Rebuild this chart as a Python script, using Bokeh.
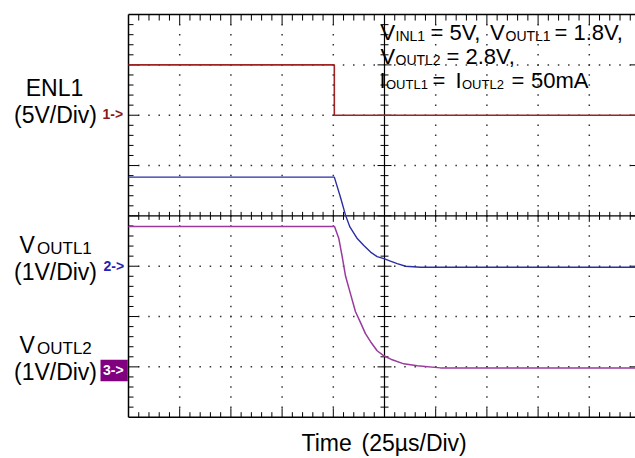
import numpy as np
from bokeh.plotting import figure
from bokeh.models import Range1d
from bokeh.core.properties import value
from bokeh.embed import file_html
from bokeh.resources import INLINE

# ---------------- data (read from the scope shot) ----------------
# time in microseconds (25 us / div), voltages in volts
t_enl1 = [0.0, 100.5, 100.5, 250.0]
v_enl1 = [5.0, 5.0, 0.0, 0.0]

t_voutl1 = [0.0, 100.5, 103.5, 106.0, 108.1, 111.7, 114.9, 118.2, 121.4,
            124.7, 127.9, 131.2, 135.3, 142.6, 250.0]
v_voutl1 = [1.77, 1.77, 1.37, 1.01, 0.78, 0.55, 0.41, 0.28, 0.19,
            0.15, 0.10, 0.05, 0.0, -0.02, -0.02]

t_voutl2 = [0.0, 100.6, 102.7, 104.3, 106.0, 108.4, 110.8, 113.3, 115.7,
            118.2, 121.4, 124.7, 128.8, 134.4, 141.0, 152.3, 250.0]
v_voutl2 = [2.79, 2.79, 2.55, 2.20, 1.80, 1.45, 1.10, 0.88, 0.66,
            0.50, 0.32, 0.22, 0.14, 0.06, 0.02, -0.02, -0.02]

# channel settings: ground position (divisions from bottom) and V/div
ch_offset = [6.0, 3.0, 1.0]
ch_scale = [5.0, 1.0, 1.0]

time_per_div = 25.0
n_xdiv = 10
n_ydiv = 8

# ---------------- layout helpers (page pixels -> data) ----------------
X0, DX = 128.0, 51.2      # page px of t=0, px per division
Y0, DY = 416.7, 50.33     # page px of bottom grid line, px per division
W, H = 635, 458


def sx(X):
    return (X - X0) / DX * time_per_div


def sy(Y):
    return (Y0 - Y) / DY


PXX = time_per_div / DX
PXY = 1.0 / DY

FONT = value("Liberation Sans")

p = figure(width=W, height=H, x_range=Range1d(sx(0), sx(W)),
           y_range=Range1d(sy(H), sy(0)), output_backend="svg",
           toolbar_location=None, min_border=0,
           x_axis_location=None, y_axis_location=None)
p.outline_line_color = None
p.background_fill_color = "white"
p.border_fill_color = "white"
p.xgrid.visible = False
p.ygrid.visible = False

T_END = n_xdiv * time_per_div

# ---------------- dotted graticule ----------------
dx_list, dy_list = [], []
for k in range(1, n_xdiv):
    if k == n_xdiv // 2:
        continue
    for j in range(1, n_ydiv * 5):
        dx_list.append(k * time_per_div)
        dy_list.append(j * 0.2)
for k in range(1, n_ydiv):
    if k == n_ydiv // 2:
        continue
    for j in range(1, n_xdiv * 5):
        dx_list.append(j * time_per_div / 5)
        dy_list.append(k)
p.scatter(dx_list, dy_list, marker="square", size=1.5, color="#333333",
          line_color=None)

# ---------------- frame, center lines and ticks ----------------
sx0, sy0, sx1, sy1 = [], [], [], []


def seg(a, b, c, d):
    sx0.append(a); sy0.append(b); sx1.append(c); sy1.append(d)


xm = [j * time_per_div / 5 for j in range(1, n_xdiv * 5)]
ym = [j * 0.2 for j in range(1, n_ydiv * 5)]
for j, x in enumerate(xm, start=1):
    major = (j % 5 == 0)
    seg(x, n_ydiv, x, n_ydiv - (10 if major else 6) * PXY)
    seg(x, 0, x, (9 if major else 5) * PXY)
    h = (6 if major else 4) * PXY
    seg(x, n_ydiv / 2 - h, x, n_ydiv / 2 + h)
for j, y in enumerate(ym, start=1):
    major = (j % 5 == 0)
    seg(0, y, (10 if major else 5) * PXX, y)
    seg(T_END, y, T_END - (10 if major else 5) * PXX, y)
    w = (7 if major else 4) * PXX
    xc = T_END / 2
    seg(xc - w, y, xc + w, y)

p.segment(sx0, sy0, sx1, sy1, line_color="black", line_width=1)
p.segment([0, T_END / 2], [n_ydiv / 2, 0], [T_END, T_END / 2],
          [n_ydiv / 2, n_ydiv], line_color="black", line_width=1.2)
p.segment([0, 0, 0], [0, n_ydiv, 0], [0, T_END, T_END], [n_ydiv, n_ydiv, 0],
          line_color="black", line_width=1.5)

# ---------------- traces ----------------
def to_div(v, ch):
    return [ch_offset[ch] + vv / ch_scale[ch] for vv in v]


p.line(t_enl1, to_div(v_enl1, 0), line_color="#9e2424", line_width=1.6)
p.line(t_voutl1, to_div(v_voutl1, 1), line_color="#2b2fa3", line_width=1.4)
p.line(t_voutl2, to_div(v_voutl2, 2), line_color="#9a3a9e", line_width=1.5)

# ---------------- texts ----------------
SHIFT = 0.44   # baseline correction (fraction of font size)


def txt(X, Y, s, size, color="black", align="left", bold=False):
    p.text([sx(X)], [sy(Y - SHIFT * size)], text=[s], text_font=FONT,
           text_font_size=value(f"{size}px"), text_color=color,
           text_align=align, text_baseline="alphabetic",
           text_font_style="bold" if bold else "normal")


BIG, SUB = 23, 17
txt(54, 98, "ENL1", BIG, align="center")
txt(55, 125, "(5V/Div)", BIG, align="center")
txt(102, 120, "1->", 14, color="#8b1a1a", bold=True)

txt(19, 255, "V", BIG)
txt(36.5, 255, "OUTL1", SUB)
txt(55, 282, "(1V/Div)", BIG, align="center")
txt(103, 271.5, "2->", 14, color="#2323b5", bold=True)

txt(19, 355, "V", BIG)
txt(36.5, 355, "OUTL2", SUB)
txt(55, 382, "(1V/Div)", BIG, align="center")
p.quad(left=[sx(100)], right=[sx(127.3)], bottom=[sy(380.7)], top=[sy(359.3)],
       fill_color="#800080", line_color=None)
txt(102.5, 375.5, "3->", 14, color="white", bold=True)

TB, TS, TS3 = 22, 14, 13
txt(380, 42, "V", TB)
txt(395, 42, "INL1", TS)
txt(430, 42, "= 5V,", TB)
txt(489.5, 42, "V", TB)
txt(505, 42, "OUTL1", TS)
txt(554, 42, "= 1.8V,", TB)

txt(380, 66, "V", TB)
txt(395, 66, "OUTL2", TS)
txt(446, 66, "= 2.8V,", TB)

txt(379, 90, "I", TB)
txt(385.5, 90, "OUTL1", TS3)
txt(432, 90, "=", TB)
txt(455, 90, "I", TB)
txt(461.5, 90, "OUTL2", TS3)
txt(511, 90, "=", TB)
txt(530.5, 90, "50mA", TB)

txt(301, 453, "Time", BIG)
txt(361, 453, "(25\u00b5s/Div)", BIG)

open("out.html", "w").write(file_html(p, INLINE))
